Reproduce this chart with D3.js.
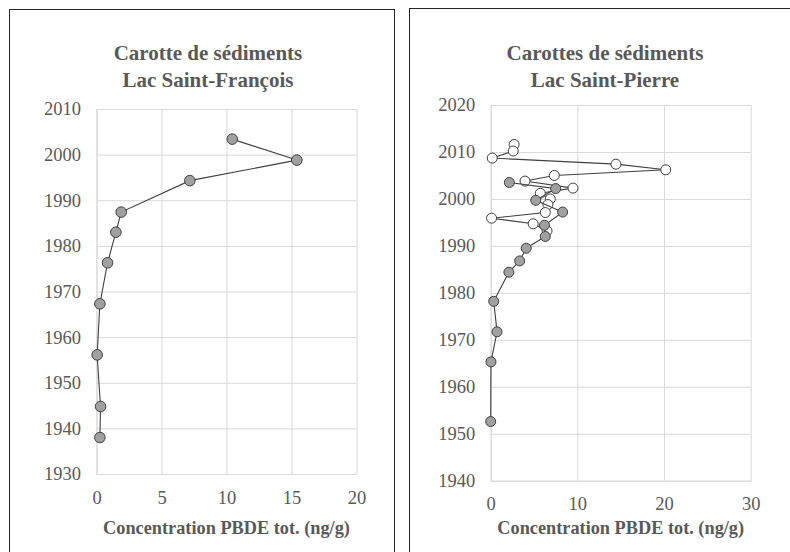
<!DOCTYPE html>
<html>
<head>
<meta charset="utf-8">
<script src="https://cdn.jsdelivr.net/npm/d3@7"></script>
<style>
  html, body { margin: 0; padding: 0; background: #fff; }
  svg { display: block; }
</style>
</head>
<body>
<svg id="chart" width="790" height="552"></svg>
<script>
// ---- Data ----
// Lac Saint-François core
const sfConc = [10.44, 15.41, 7.18, 1.9, 1.49, 0.85, 0.26, 0.05, 0.31, 0.26];
const sfYear = [2003.4, 1998.8, 1994.3, 1987.4, 1983.0, 1976.3, 1967.3, 1956.1, 1944.8, 1938.0];
// Lac Saint-Pierre core (grey markers)
const spGreyConc = [2.15, 7.5, 5.2, 8.3, 6.2, 6.3, 4.1, 3.34, 2.1, 0.35, 0.73, 0.03, 0];
const spGreyYear = [2003.5, 2002.2, 1999.7, 1997.2, 1994.4, 1992.0, 1989.5, 1986.8, 1984.4, 1978.2, 1971.7, 1965.3, 1952.6];
// Lac Saint-Pierre core (white markers)
const spWhiteConc = [2.7, 2.6, 0.18, 14.45, 20.2, 7.34, 3.96, 9.5, 5.72, 6.88, 6.6, 6.3, 0.1, 4.9, 6.5];
const spWhiteYear = [2011.6, 2010.2, 2008.7, 2007.4, 2006.2, 2005.0, 2003.8, 2002.3, 2001.2, 2000.0, 1998.8, 1997.1, 1995.9, 1994.7, 1993.2];
// Axes
const sfXTicks = [0, 5, 10, 15, 20];
const sfYTicks = [1930, 1940, 1950, 1960, 1970, 1980, 1990, 2000, 2010];
const spXTicks = [0, 10, 20, 30];
const spYTicks = [1940, 1950, 1960, 1970, 1980, 1990, 2000, 2010, 2020];
const sfTitle = ["Carotte de sédiments", "Lac Saint-François"];
const spTitle = ["Carottes de sédiments", "Lac Saint-Pierre"];
const xTitle = "Concentration PBDE tot. (ng/g)";

const FONT = '"Liberation Serif"';
const TXT = "#595959";
const svg = d3.select("#chart");

// panel frames
svg.append("rect").attr("x", 9.5).attr("y", 9.5).attr("width", 385).attr("height", 600)
  .attr("fill", "none").attr("stroke", "#262626").attr("stroke-width", 1);
svg.append("rect").attr("x", 409.5).attr("y", 8.5).attr("width", 400).attr("height", 600)
  .attr("fill", "none").attr("stroke", "#262626").attr("stroke-width", 1);

function panel(cfg) {
  const x = d3.scaleLinear().domain(cfg.xDomain).range([cfg.left, cfg.right]);
  const y = d3.scaleLinear().domain(cfg.yDomain).range([cfg.bottom, cfg.top]);
  const w = cfg.right - cfg.left, h = cfg.bottom - cfg.top;
  const g = svg.append("g");

  const gx = g.append("g").attr("transform", `translate(0,${cfg.bottom})`)
    .call(d3.axisBottom(x).tickValues(cfg.xTicks).tickFormat(d3.format("d"))
      .tickSizeInner(-h).tickSizeOuter(0).tickPadding(cfg.xPad));
  const gy = g.append("g").attr("transform", `translate(${cfg.left},0)`)
    .call(d3.axisLeft(y).tickValues(cfg.yTicks).tickFormat(d3.format("d"))
      .tickSizeInner(-w).tickSizeOuter(0).tickPadding(15.5));
  [gx, gy].forEach(a => {
    a.attr("font-family", null).attr("font-size", null);
    a.select(".domain").attr("stroke", "#d9d9d9");
    a.selectAll(".tick line").attr("stroke", "#d9d9d9");
    a.selectAll(".tick text").attr("fill", TXT)
      .style("font-family", FONT)
      .style("font-size", "18.5px");
  });

  // titles
  cfg.title.forEach((t, i) => {
    g.append("text").attr("x", cfg.titleX).attr("y", 60 + i * 27)
      .attr("text-anchor", "middle").attr("fill", TXT)
      .style("font-family", FONT).style("font-size", "21px").style("font-weight", "bold")
      .text(t);
  });
  g.append("text").attr("x", (cfg.left + cfg.right) / 2).attr("y", 534)
    .attr("text-anchor", "middle").attr("fill", TXT)
    .style("font-family", FONT).style("font-size", "18.3px").style("font-weight", "bold")
    .text(xTitle);

  const line = d3.line().x(d => x(d[0])).y(d => y(d[1]));
  cfg.series.forEach(s => {
    const pts = d3.zip(s.conc, s.year);
    g.append("path").datum(pts).attr("d", line)
      .attr("fill", "none").attr("stroke", "#404040").attr("stroke-width", 1.1);
    g.selectAll(null).data(pts).enter().append("circle")
      .attr("cx", d => x(d[0])).attr("cy", d => y(d[1])).attr("r", cfg.r)
      .attr("fill", s.fill).attr("stroke", "#404040").attr("stroke-width", 1);
  });
}

panel({
  xDomain: [0, 20], yDomain: [1930, 2010], left: 96.5, right: 356.5, top: 109, bottom: 474,
  xTicks: sfXTicks, yTicks: sfYTicks, xPad: 17, title: sfTitle, titleX: 208, r: 5.3,
  series: [{ conc: sfConc, year: sfYear, fill: "#a0a0a0" }]
});
panel({
  xDomain: [0, 30], yDomain: [1940, 2020], left: 490.7, right: 750.7, top: 105, bottom: 480.7,
  xTicks: spXTicks, yTicks: spYTicks, xPad: 16, title: spTitle, titleX: 605, r: 5,
  series: [
    { conc: spWhiteConc, year: spWhiteYear, fill: "#ffffff" },
    { conc: spGreyConc, year: spGreyYear, fill: "#a0a0a0" }
  ]
});
</script>
</body>
</html>
